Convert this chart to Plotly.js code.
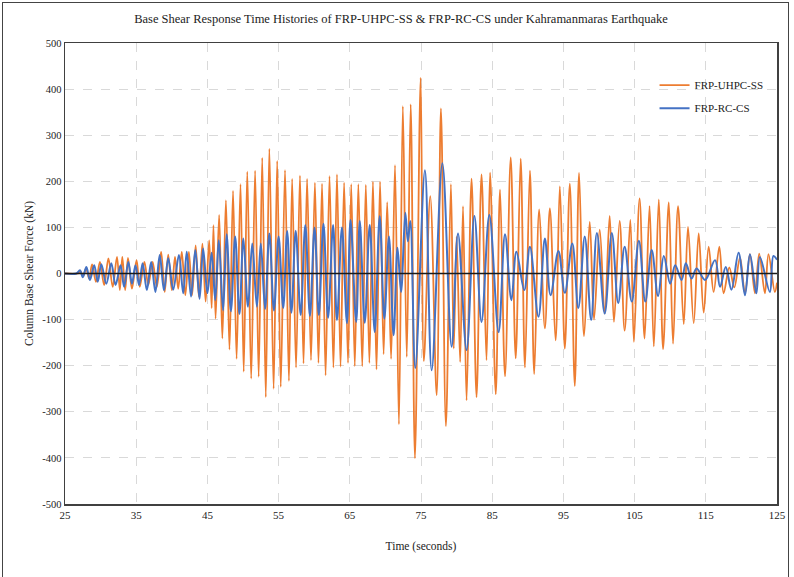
<!DOCTYPE html>
<html>
<head>
<meta charset="utf-8">
<script src="https://cdn.plot.ly/plotly-3.0.1.min.js"></script>
<style>
  html, body { margin: 0; padding: 0; background: #fff; }
  #frame { position: absolute; left: 2px; top: 2px; width: 787px; height: 580px; border: 1px solid #444; box-sizing: border-box; }
  #chart { position: absolute; left: 0; top: 0; width: 794px; height: 577px; }
</style>
</head>
<body>
<div id="chart"></div>
<div id="frame" style="pointer-events:none"></div>
<script>
// FRP-UHPC-SS : time (s) of each peak / trough and base shear (kN)
const uhpcTime = [25, 26.8, 27.2, 27.55, 27.95, 28.4, 28.8, 29.35, 29.9, 30.5, 31.1, 31.7, 32.3, 32.7, 33.05, 33.45, 33.85, 34.4, 35.05, 35.5, 36.15, 36.7, 37.3, 37.9, 38.5, 39.0, 39.5, 40.0, 40.45, 40.9, 41.4, 41.9, 42.4, 42.85, 43.35, 43.8, 44.3, 44.75, 45.25, 45.6, 45.85, 46.15, 46.65, 47.1, 47.6, 48.1, 48.6, 49.1, 49.65, 50.1, 50.6, 51.15, 51.7, 52.2, 52.7, 53.2, 53.7, 54.3, 54.8, 55.3, 55.9, 56.45, 56.9, 57.45, 58.0, 58.5, 59.0, 59.55, 60.1, 60.6, 61.1, 61.6, 62.15, 62.7, 63.2, 63.7, 64.2, 64.75, 65.2, 65.7, 66.2, 66.75, 67.25, 67.75, 68.25, 68.75, 69.25, 69.75, 70.25, 70.8, 71.35, 71.9, 72.45, 73.0, 73.55, 74.15, 74.95, 75.4, 76.3, 77.2, 77.8, 78.5, 79.2, 79.6, 80.0, 80.5, 80.9, 81.4, 82.1, 82.8, 83.5, 84.2, 84.7, 85.5, 86.1, 86.8, 87.6, 88.3, 89.0, 89.6, 90.3, 90.9, 91.6, 92.4, 93.1, 93.9, 94.5, 95.2, 95.9, 96.6, 97.2, 97.9, 98.7, 99.3, 100.1, 100.8, 101.5, 102.1, 102.9, 103.6, 104.4, 104.9, 105.7, 106.4, 107.1, 107.7, 108.4, 109.0, 109.8, 110.4, 111.1, 111.9, 112.5, 113.3, 114.0, 114.7, 115.4, 116.1, 116.9, 117.5, 118.3, 119.0, 119.8, 120.5, 121.2, 121.9, 122.5, 123.3, 123.8, 124.7, 125];
const uhpcShear = [0, 0, 4, -6, 11, -11, 20, -18, 25, -25, 33, -29, 36, -36, 36, -36, 34, -33, 29, -29, 25, -25, 25, -29, 47, -40, 41, -36, 36, -33, 47, -47, 47, -47, 61, -50, 65, -61, 72, -75, 105, -98, 127, -141, 159, -165, 179, -185, 194, -213, 221, -228, 223, -224, 251, -268, 271, -250, 244, -246, 224, -233, 205, -204, 212, -195, 205, -188, 197, -194, 195, -221, 211, -204, 215, -202, 197, -194, 194, -201, 194, -201, 192, -194, 199, -208, 199, -175, 155, -185, 235, -327, 363, -181, 367, -401, 425, -190, 168, -264, 358, -331, 194, -163, 80, -192, 146, -275, 206, -268, 215, -188, 219, -262, 182, -223, 252, -184, 249, -204, 223, -218, 139, -119, 141, -145, 189, -163, 195, -244, 218, -136, 112, -100, 95, -87, 125, -105, 114, -124, 116, -148, 163, -141, 146, -158, 161, -164, 154, -152, 146, -110, 101, -108, 87, -85, 58, -40, 58, -43, 13, -30, 35, -43, 42, -43, 43, -43, 42, -40, -20];

// FRP-RC-CS : time (s) of each peak / trough and base shear (kN)
const rcTime = [25, 26.6, 27.1, 27.5, 28.0, 28.5, 29.1, 29.6, 30.1, 30.8, 31.5, 32.1, 32.8, 33.3, 33.9, 34.4, 34.9, 35.4, 35.9, 36.5, 37.1, 37.7, 38.3, 38.9, 39.5, 40.2, 41.0, 41.6, 42.1, 42.7, 43.3, 43.9, 44.4, 45.0, 45.6, 46.1, 46.6, 47.2, 47.7, 48.3, 48.9, 49.5, 50.05, 50.7, 51.3, 51.95, 52.5, 53.1, 53.7, 54.35, 55.0, 55.65, 56.2, 56.8, 57.4, 58.1, 58.75, 59.4, 60.05, 60.65, 61.3, 61.95, 62.65, 63.2, 63.9, 64.6, 65.1, 65.9, 66.4, 67.1, 67.8, 68.5, 69.2, 69.85, 70.5, 71.15, 71.7, 72.2, 72.8, 73.15, 73.5, 74.2, 75.55, 76.5, 78.0, 79.3, 80.2, 81.4, 82.5, 83.5, 84.6, 85.9, 86.8, 87.7, 88.4, 89.5, 90.3, 91.5, 92.4, 93.2, 94.3, 95.2, 96.25, 97.1, 98.0, 98.9, 99.7, 100.8, 101.8, 102.7, 103.6, 104.6, 105.6, 106.5, 107.4, 108.3, 109.1, 110.0, 110.7, 111.6, 112.2, 113.0, 113.7, 114.9, 116.3, 117.0, 117.8, 118.6, 119.6, 120.5, 121.2, 122.1, 122.6, 124.0, 124.5, 125];
const rcShear = [0, 0, 7, -8, 14, -14, 18, -18, 20, -22, 22, -25, 18, -29, 25, -22, 18, -25, 22, -36, 25, -40, 40, -36, 33, -35, 40, -43, 47, -50, 51, -55, 54, -43, 45, -58, 72, -80, 85, -82, 80, -88, 76, -72, 65, -72, 65, -77, 87, -80, 80, -75, 92, -85, 93, -90, 105, -92, 100, -90, 108, -96, 105, -101, 100, -108, 116, -105, 114, -107, 105, -127, 124, -98, 80, -134, 56, -40, 132, 70, 114, -205, 224, -210, 239, -159, 87, -166, 125, -105, 127, -127, 85, -58, 47, -36, 58, -94, 76, -47, 49, -42, 65, -75, 80, -101, 88, -87, 88, -64, 58, -61, 71, -61, 51, -49, 38, -22, 18, -14, 22, -11, 11, -14, 29, -29, 14, -35, 45, -47, 42, -43, 36, -40, 38, 30];

const xTicks = [25, 35, 45, 55, 65, 75, 85, 95, 105, 115, 125];
const yTicks = [-500, -400, -300, -200, -100, 0, 100, 200, 300, 400, 500];

const serif = 'Liberation Serif, Times New Roman, serif';

const traces = [
  { x: uhpcTime, y: uhpcShear, type: 'scatter', mode: 'lines', name: 'FRP-UHPC-SS', legendgroup: 'a',
    line: { color: '#ED7D31', width: 1.8, shape: 'spline', smoothing: 1 } },
  { x: rcTime, y: rcShear, type: 'scatter', mode: 'lines', name: 'FRP-RC-CS', legendgroup: 'b',
    line: { color: '#4472C4', width: 2, shape: 'spline', smoothing: 1 } }
];

const layout = {
  width: 794, height: 577,
  margin: { l: 65, r: 17, t: 43, b: 73 },
  paper_bgcolor: '#ffffff', plot_bgcolor: '#ffffff',
  font: { family: serif, size: 11, color: '#222' },
  title: { text: 'Base Shear Response Time Histories of FRP-UHPC-SS &amp; FRP-RC-CS under Kahramanmaras Earthquake',
           font: { family: serif, size: 12.5, color: '#222' }, x: 0.505, xanchor: 'center', y: 0.968, yanchor: 'middle' },
  xaxis: {
    range: [25, 125], tickvals: xTicks, ticktext: xTicks.map(String),
    showgrid: true, gridcolor: '#d9d9d9', griddash: 'dash', gridwidth: 1,
    zeroline: false, showline: true, linecolor: '#404040', linewidth: 1.5, mirror: true,
    ticks: '', tickfont: { family: serif, size: 11, color: '#222' },
    title: { text: 'Time (seconds)', font: { family: serif, size: 11.5, color: '#222' }, standoff: 22 }
  },
  yaxis: {
    range: [-500, 500], tickvals: yTicks, ticktext: yTicks.map(String),
    showgrid: true, gridcolor: '#d9d9d9', griddash: 'dash', gridwidth: 1,
    zeroline: false, showline: true, linecolor: '#404040', linewidth: 1.5, mirror: true,
    ticks: '', tickfont: { family: serif, size: 10.5, color: '#222' },
    title: { text: 'Column Base Shear Force (kN)', font: { family: serif, size: 11.5, color: '#222' }, standoff: 6 }
  },
  shapes: [
    { type: 'line', xref: 'paper', yref: 'y', x0: 0, x1: 1, y0: 0, y1: 0, layer: 'above',
      line: { color: '#1a1a1a', width: 1.6 } }
  ],
  legend: {
    x: 0.828, y: 0.94, xanchor: 'left', yanchor: 'top',
    bgcolor: 'rgba(0,0,0,0)', borderwidth: 0,
    font: { family: serif, size: 11, color: '#222' },
    itemwidth: 30, tracegroupgap: 4
  },
  showlegend: true
};

Plotly.newPlot('chart', traces, layout, { displayModeBar: false, staticPlot: true });
</script>
</body>
</html>
